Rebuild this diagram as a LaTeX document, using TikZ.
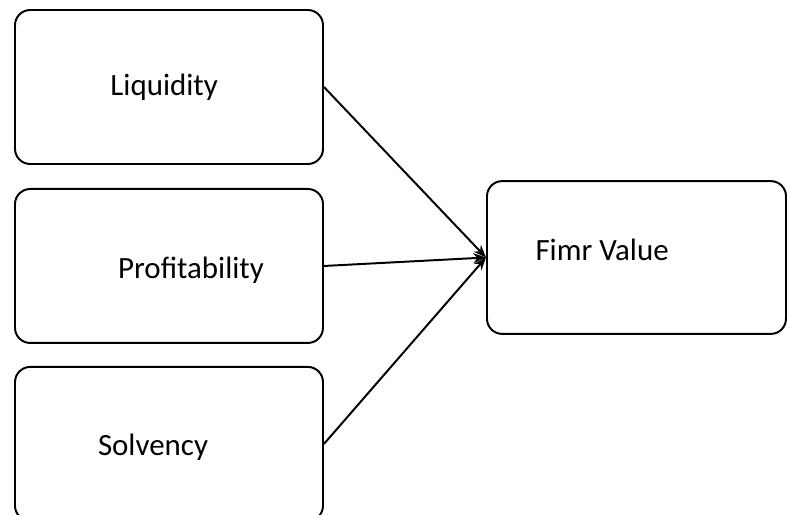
\documentclass[tikz,border=0pt]{standalone}
\usepackage{fontspec}
\setmainfont{Carlito}
\usetikzlibrary{arrows.meta,positioning}

\begin{document}
\begin{tikzpicture}[
    >={Stealth[length=9pt,width=7pt]},
    font=\fontsize{22}{26}\selectfont,
    box/.style={draw, line width=1.4pt, rounded corners=0.38cm, minimum width=7.7cm, minimum height=3.85cm, inner sep=0pt},
    target/.style={draw, line width=1.4pt, rounded corners=0.38cm, minimum width=7.475cm, minimum height=3.82cm, inner sep=0pt},
    arrow/.style={->, line width=1.4pt}
]
\useasboundingbox (0,0) rectangle (19.675,-12.875);
\node[box, label={[xshift=-0.12cm]center:Liquidity}] (liquidity) at (4.225,-2.175) {};
\node[box, below=0.575cm of liquidity, label={[xshift=0.55cm, yshift=-0.1cm]center:Profitability}] (profit) {};
\node[box, below=0.55cm of profit, label={[xshift=-0.4cm, yshift=-0.08cm]center:Solvency}] (solvency) {};
\node[target, label={[xshift=-0.86cm, yshift=0.19cm]center:Fimr Value}] (value) at (15.9125,-6.4375) {};
\draw[arrow] (liquidity.east) -- (value.west);
\draw[arrow] (profit.east) -- (value.west);
\draw[arrow] (solvency.east) -- (value.west);
\end{tikzpicture}
\end{document}
